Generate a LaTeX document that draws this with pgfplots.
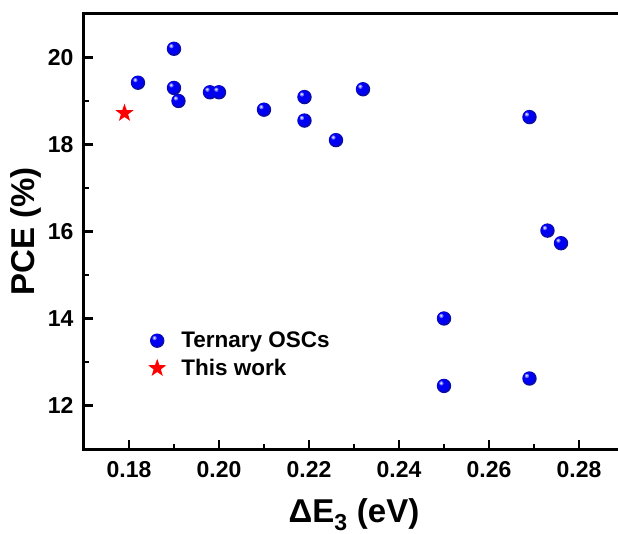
\documentclass[border=0pt]{standalone}
\usepackage{fontspec}
\setmainfont{Liberation Sans}
\usepackage{pgfplots}
\pgfplotsset{compat=1.18}
\definecolor{ballA}{rgb}{0.05,0.05,0.62}
\definecolor{ballB}{rgb}{0.0,0.0,0.95}
\definecolor{ballC}{rgb}{0.45,0.45,1.0}
\definecolor{ballD}{rgb}{0.85,0.85,1.0}
\pgfdeclareplotmark{myball}{%
  \pgfsetfillcolor{ballA}%
  \pgfpathcircle{\pgfpointorigin}{\pgfplotmarksize}\pgfusepathqfill
  \pgfsetfillcolor{ballB}%
  \pgfpathcircle{\pgfpoint{-0.08\pgfplotmarksize}{0.08\pgfplotmarksize}}{0.86\pgfplotmarksize}\pgfusepathqfill
  \pgfsetfillcolor{ballC}%
  \pgfpathcircle{\pgfpoint{-0.36\pgfplotmarksize}{0.36\pgfplotmarksize}}{0.30\pgfplotmarksize}\pgfusepathqfill
  \pgfsetfillcolor{ballD}%
  \pgfpathcircle{\pgfpoint{-0.38\pgfplotmarksize}{0.38\pgfplotmarksize}}{0.16\pgfplotmarksize}\pgfusepathqfill}
\pgfdeclareplotmark{fstar}{%
  \pgfpathmoveto{\pgfpointpolar{90}{\pgfplotmarksize}}%
  \pgfpathlineto{\pgfpointpolar{126}{0.40\pgfplotmarksize}}%
  \pgfpathlineto{\pgfpointpolar{162}{\pgfplotmarksize}}%
  \pgfpathlineto{\pgfpointpolar{198}{0.40\pgfplotmarksize}}%
  \pgfpathlineto{\pgfpointpolar{234}{\pgfplotmarksize}}%
  \pgfpathlineto{\pgfpointpolar{270}{0.40\pgfplotmarksize}}%
  \pgfpathlineto{\pgfpointpolar{306}{\pgfplotmarksize}}%
  \pgfpathlineto{\pgfpointpolar{342}{0.40\pgfplotmarksize}}%
  \pgfpathlineto{\pgfpointpolar{18}{\pgfplotmarksize}}%
  \pgfpathlineto{\pgfpointpolar{54}{0.40\pgfplotmarksize}}%
  \pgfpathclose\pgfusepathqfill}
\begin{document}
\begin{tikzpicture}
\begin{axis}[
  name=ax,
  scale only axis,
  width=540pt, height=435pt,
  xmin=0.17, xmax=0.29,
  ymin=11, ymax=21,
  axis line style={line width=3pt, black},
  tick style={line width=2.6pt, black},
  tick align=inside,
  xtick pos=bottom, ytick pos=left,
  major tick length=9pt, minor tick length=5pt,
  xtick={0.18,0.20,0.22,0.24,0.26,0.28},
  ytick={12,14,16,18,20},
  minor x tick num=1, minor y tick num=1,
  /pgf/number format/assume math mode=true,
  xticklabel style={yshift=-9pt, /pgf/number format/.cd, fixed, fixed zerofill, precision=2},
  yticklabel style={xshift=-7pt, /pgf/number format/.cd, fixed, precision=0},
  ticklabel style={font=\fontsize{23}{23}\selectfont\bfseries},
  xlabel={ΔE\textsubscript{3} (eV)},
  ylabel={PCE (\%)},
  xlabel style={yshift=-14pt},
  ylabel style={yshift=0pt},
  label style={font=\fontsize{33}{33}\selectfont\bfseries},
  legend cell align=left,
  legend image code/.code={\draw[mark repeat=2,mark phase=2,#1] plot coordinates {(0cm,0cm) (0.3cm,0cm) (0.9cm,0cm)};},
  legend style={draw=none, fill=none, at={(0.1185,0.217)}, anchor=west,
    font=\fontsize{22.5}{22.5}\selectfont\bfseries, inner sep=0pt, row sep=6pt,
    nodes={inner xsep=15pt}},
  clip=false,
]
\addplot[only marks, mark=myball, mark size=7.2pt, color=blue, line width=0.4pt] coordinates {
  (0.190,20.20) (0.182,19.42) (0.190,19.30) (0.191,19.00) (0.198,19.20)
  (0.200,19.20) (0.210,18.80) (0.219,19.09) (0.219,18.55) (0.226,18.10)
  (0.232,19.27) (0.269,18.63) (0.273,16.02) (0.276,15.73) (0.250,14.00)
  (0.250,12.45) (0.269,12.62)
};
\addlegendentry{Ternary OSCs}
\addplot[only marks, mark=fstar, color=red, mark options={fill=red, draw=none}, mark size=9.5pt, line width=0.4pt] coordinates {(0.179,18.72)};
\addlegendentry{This work}
\end{axis}
\pgfresetboundingbox
\path ([shift={(-84pt,-84pt)}]ax.south west) rectangle ([shift={(534pt,14pt)}]ax.north west);
\end{tikzpicture}
\end{document}
